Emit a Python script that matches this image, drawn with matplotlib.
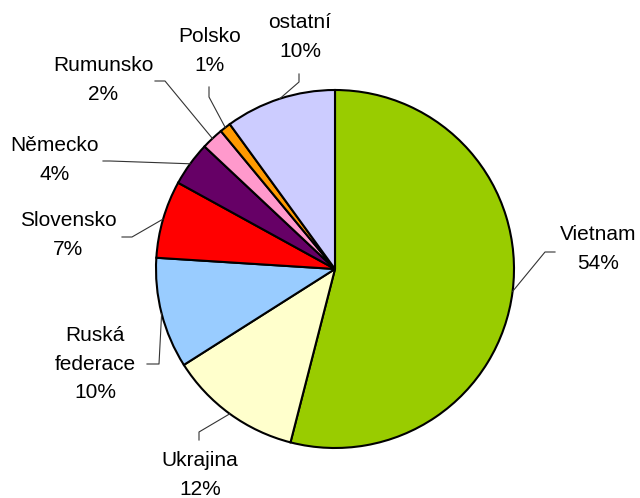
import numpy as np
import matplotlib.pyplot as plt

# shares of foreigners by country (%), clockwise from 12 o'clock
countries = ["Vietnam", "Ukrajina", "Ruská\nfederace", "Slovensko", "Německo",
             "Rumunsko", "Polsko", "ostatní"]
shares = [54, 12, 10, 7, 4, 2, 1, 10]
colors = ["#99CC00", "#FFFFCC", "#99CCFF", "#FF0000", "#660066",
          "#FF99CC", "#FF9900", "#CCCCFF"]

W, H = 640, 498
CENTER = (335, H - 269)
RADIUS = 179

# label centre and leader-line elbow/end in pixel coordinates (y down)
label_pos = [(598, 249), (200, 475), (95, 364), (68, 235), (55, 160),
             (103, 80), (210, 51), (300, 37)]
leader_pts = [
    [(545, 252), (555, 252)],
    [(199, 432), (199, 440)],
    [(159, 364), (147, 364)],
    [(132, 237), (122, 237)],
    [(110, 161), (103, 161)],
    [(165, 81), (155, 81)],
    [(209, 97), (209, 87)],
    [(299, 82), (299, 74)],
]

plt.rcParams["font.family"] = ["Liberation Sans", "DejaVu Sans"]

fig = plt.figure(figsize=(W / 100, H / 100), dpi=100)
ax = fig.add_axes([0, 0, 1, 1])

wedges, _ = ax.pie(shares, colors=colors, startangle=90, counterclock=False,
                   center=CENTER, radius=RADIUS,
                   wedgeprops=dict(edgecolor="black", linewidth=1.5))
ax.set_xlim(0, W)
ax.set_ylim(0, H)
ax.set_aspect("equal")
ax.axis("off")

for wedge, name, share, (lx, ly), pts in zip(wedges, countries, shares,
                                             label_pos, leader_pts):
    mid = np.deg2rad((wedge.theta1 + wedge.theta2) / 2)
    ax_x = CENTER[0] + RADIUS * np.cos(mid)
    ax_y = CENTER[1] + RADIUS * np.sin(mid)
    xs = [ax_x] + [p[0] for p in pts]
    ys = [ax_y] + [H - p[1] for p in pts]
    ax.plot(xs, ys, color="#333333", linewidth=0.8)
    ax.text(lx, H - ly, f"{name}\n{share}%", ha="center", va="center",
            fontsize=15, linespacing=1.65)

fig.savefig("out.png", dpi=100)
